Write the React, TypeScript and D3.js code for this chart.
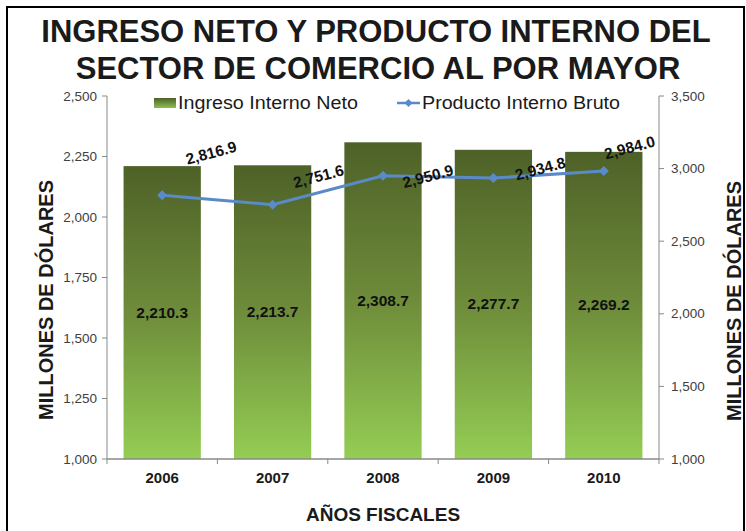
import React from "react";
import * as d3 from "d3";

const years = ["2006", "2007", "2008", "2009", "2010"];
const ingresoNeto = [2210.3, 2213.7, 2308.7, 2277.7, 2269.2];
const productoBruto = [2816.9, 2751.6, 2950.9, 2934.8, 2984.0];
const leftTicks = [1000, 1250, 1500, 1750, 2000, 2250, 2500];
const rightTicks = [1000, 1500, 2000, 2500, 3000, 3500];
// label placement offsets for line labels (dx, dy from point)
const lineLabelOffsets: [number, number][] = [
  [49, -42],
  [46, -28],
  [45, 1],
  [47, -9],
  [26, -23],
];

const W = 746;
const H = 531;
const plot = { left: 107, right: 659, top: 96, bottom: 459 };
const fmt = d3.format(",.1f");
const fmtTick = d3.format(",");
const FONT = "'Liberation Sans', Arial, Helvetica, sans-serif";
const LINE_COLOR = "#5A8AC8";

export default function App() {
  const x = d3
    .scaleBand<string>()
    .domain(years)
    .range([plot.left, plot.right])
    .paddingInner(0.3)
    .paddingOuter(0.15);
  const xOuter = d3.scaleBand<string>().domain(years).range([plot.left, plot.right]);
  const yL = d3.scaleLinear().domain([1000, 2500]).range([plot.bottom, plot.top]);
  const yR = d3.scaleLinear().domain([1000, 3500]).range([plot.bottom, plot.top]);

  const pts = productoBruto.map((v, i) => [
    (xOuter(years[i]) as number) + xOuter.bandwidth() / 2,
    yR(v),
  ]) as [number, number][];
  const lineGen = d3.line();
  const diamond = (cx: number, cy: number, r: number) =>
    `M${cx},${cy - r}L${cx + r},${cy}L${cx},${cy + r}L${cx - r},${cy}Z`;

  const boundaries = years.map((y) => xOuter(y) as number).concat([plot.right]);

  return (
    <svg
      width={W}
      height={H}
      style={{ position: "absolute", left: 0, top: 0, background: "#fff" }}
      fontFamily={FONT}
    >
      <defs>
        <linearGradient id="barGrad" x1="0" y1="0" x2="0" y2="1">
          <stop offset="0%" stopColor="#4E6128" />
          <stop offset="50%" stopColor="#6E8C3A" />
          <stop offset="100%" stopColor="#94CD54" />
        </linearGradient>
        <linearGradient id="swGrad" x1="0" y1="0" x2="0" y2="1">
          <stop offset="0%" stopColor="#4E6128" />
          <stop offset="100%" stopColor="#8BC04E" />
        </linearGradient>
      </defs>
      <rect x={7} y={7} width={737} height={H + 20} fill="none" stroke="#000" strokeWidth={2} />

      <text x={376} y={42} textAnchor="middle" fontSize={31} fontWeight="bold" fill="#1a1a1a">
        INGRESO NETO Y PRODUCTO INTERNO DEL
      </text>
      <text x={378} y={79} textAnchor="middle" fontSize={31} fontWeight="bold" fill="#1a1a1a">
        SECTOR DE COMERCIO AL POR MAYOR
      </text>

      {/* bars */}
      {ingresoNeto.map((v, i) => (
        <rect
          key={years[i]}
          x={x(years[i])}
          y={yL(v)}
          width={x.bandwidth()}
          height={yL(1000) - yL(v)}
          fill="url(#barGrad)"
        />
      ))}

      {/* axes */}
      <line x1={plot.left} x2={plot.left} y1={plot.top} y2={plot.bottom} stroke="#888" />
      <line x1={plot.right} x2={plot.right} y1={plot.top} y2={plot.bottom} stroke="#888" />
      <line x1={plot.left} x2={plot.right} y1={plot.bottom} y2={plot.bottom} stroke="#888" strokeWidth={1.5} />
      {boundaries.map((b, i) => (
        <line key={i} x1={b} x2={b} y1={plot.bottom} y2={plot.bottom + 5} stroke="#888" />
      ))}
      {leftTicks.map((t) => (
        <g key={"l" + t}>
          <line x1={plot.left - 5} x2={plot.left} y1={yL(t)} y2={yL(t)} stroke="#888" />
          <text x={97} y={yL(t) + 4.5} textAnchor="end" fontSize={13.5} fill="#404040">
            {fmtTick(t)}
          </text>
        </g>
      ))}
      {rightTicks.map((t) => (
        <g key={"r" + t}>
          <line x1={plot.right} x2={plot.right + 5} y1={yR(t)} y2={yR(t)} stroke="#888" />
          <text x={671} y={yR(t) + 4.5} textAnchor="start" fontSize={13.5} fill="#404040">
            {fmtTick(t)}
          </text>
        </g>
      ))}
      {years.map((y) => (
        <text
          key={"x" + y}
          x={(xOuter(y) as number) + xOuter.bandwidth() / 2}
          y={483}
          textAnchor="middle"
          fontSize={15}
          fontWeight="bold"
          fill="#1a1a1a"
        >
          {y}
        </text>
      ))}

      {/* bar labels */}
      {ingresoNeto.map((v, i) => (
        <text
          key={"bl" + i}
          x={(x(years[i]) as number) + x.bandwidth() / 2}
          y={(yL(v) + yL(1000)) / 2 + 5}
          textAnchor="middle"
          fontSize={15.5}
          fontWeight="bold"
          fill="#111"
        >
          {fmt(v)}
        </text>
      ))}

      {/* line */}
      <path d={lineGen(pts) as string} fill="none" stroke={LINE_COLOR} strokeWidth={3} />
      {pts.map(([cx, cy], i) => (
        <path key={"m" + i} d={diamond(cx, cy, 5)} fill={LINE_COLOR} />
      ))}
      {pts.map(([cx, cy], i) => {
        const [dx, dy] = lineLabelOffsets[i];
        return (
          <text
            key={"ll" + i}
            transform={`translate(${cx + dx},${cy + dy}) rotate(-15)`}
            y={5}
            textAnchor="middle"
            fontSize={15.5}
            fontWeight="bold"
            fill="#111"
          >
            {fmt(productoBruto[i])}
          </text>
        );
      })}

      {/* legend */}
      <rect x={154} y={98} width={22} height={10} fill="url(#swGrad)" />
      <text x={178} y={109} fontSize={18} fill="#1a1a1a" textLength={180} lengthAdjust="spacingAndGlyphs">
        Ingreso Interno Neto
      </text>
      <line x1={397} x2={420} y1={103} y2={103} stroke={LINE_COLOR} strokeWidth={2.5} />
      <path d={diamond(408.5, 103, 4)} fill={LINE_COLOR} />
      <text x={422} y={109} fontSize={18} fill="#1a1a1a" textLength={198} lengthAdjust="spacingAndGlyphs">
        Producto Interno Bruto
      </text>

      {/* axis titles */}
      <text x={383} y={521} textAnchor="middle" fontSize={19} fontWeight="bold" fill="#1a1a1a">
        AÑOS FISCALES
      </text>
      <text
        transform="translate(53,300) rotate(-90)"
        textAnchor="middle"
        fontSize={20}
        fontWeight="bold"
        fill="#1a1a1a"
      >
        MILLONES DE DÓLARES
      </text>
      <text
        transform="translate(741,301) rotate(-90)"
        textAnchor="middle"
        fontSize={20}
        fontWeight="bold"
        fill="#1a1a1a"
      >
        MILLONES DE DÓLARES
      </text>
    </svg>
  );
}
